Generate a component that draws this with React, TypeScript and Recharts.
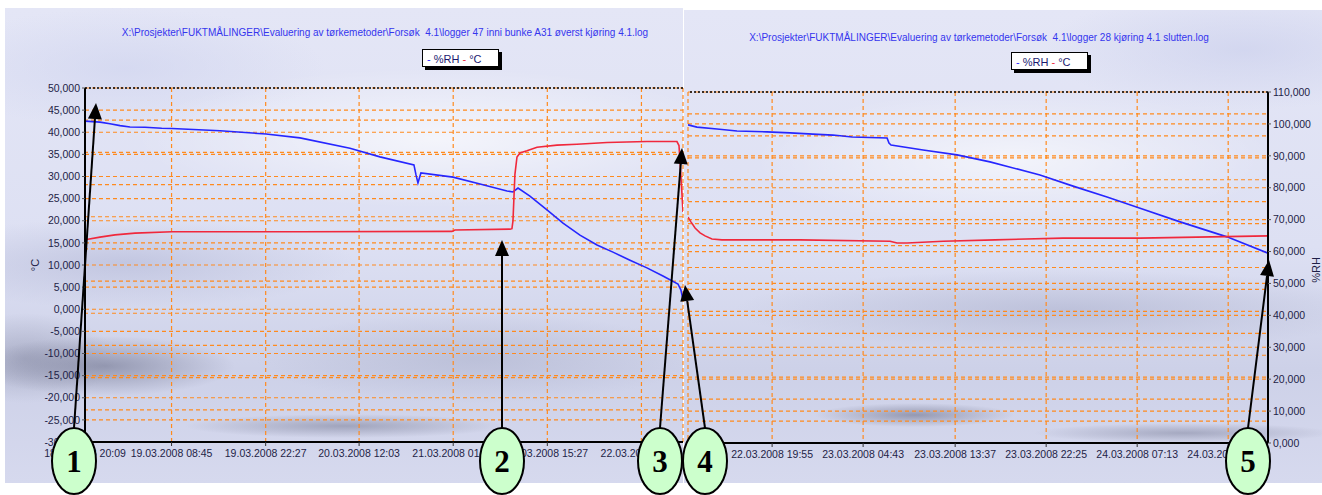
import React from 'react';
import { LineChart, Line, XAxis, YAxis, CartesianGrid, ReferenceLine } from 'recharts';

// ---------- titles / legend ----------
const leftTitle = 'X:\\Prosjekter\\FUKTMÅLINGER\\Evaluering av tørkemetoder\\Forsøk  4.1\\logger 47 inni bunke A31 øverst kjøring 4.1.log';
const rightTitle = 'X:\\Prosjekter\\FUKTMÅLINGER\\Evaluering av tørkemetoder\\Forsøk  4.1\\logger 28 kjøring 4.1 slutten.log';
const seriesNames = ['%RH', '°C'];
const seriesColors = ['#2626ff', '#f0283c'];

// ---------- axes ----------
const celsiusTicks = [-30, -25, -20, -15, -10, -5, 0, 5, 10, 15, 20, 25, 30, 35, 40, 45, 50];
const rhTicks = [0, 10, 20, 30, 40, 50, 60, 70, 80, 90, 100, 110];

// left chart: minutes since 18.03.2008 20:09
const leftTimeEnd = 5223;
const leftTicks = [0, 756, 1578, 2394, 3216, 4038, 4860];
const leftTickLabels = ['18.03.2008 20:09', '19.03.2008 08:45', '19.03.2008 22:27', '20.03.2008 12:03', '21.03.2008 01:45', '21.03.2008 15:27', '22.03.2008 05:09'];

// right chart: minutes since 22.03.2008 11:47
const rightTimeEnd = 3365;
const rightTicks = [488, 1016, 1550, 2078, 2606, 3134];
const rightTickLabels = ['22.03.2008 19:55', '23.03.2008 04:43', '23.03.2008 13:37', '23.03.2008 22:25', '24.03.2008 07:13', '24.03.2008 16:01'];

// ---------- series: logger 47 ----------
const leftRhTime = [0, 131, 218, 306, 393, 524, 670, 760, 1179, 1581, 1878, 2314, 2576, 2873, 2891, 2908, 2934, 3214, 3450, 3686, 3738, 3782, 3886, 4035, 4175, 4323, 4472, 4611, 4760, 4908, 5048, 5179, 5205, 5223];
const leftRh = [99.7, 99.4, 98.9, 98.3, 97.9, 97.8, 97.5, 97.4, 96.7, 95.7, 94.5, 91.3, 88.6, 86.1, 83.0, 80.5, 83.6, 82.3, 80.2, 78.0, 77.7, 78.9, 76.4, 72.1, 68.0, 64.3, 61.2, 59.0, 56.5, 54.1, 51.6, 49.1, 47.2, 44.1];
const leftTempTime = [0, 131, 262, 437, 760, 1878, 3205, 3231, 3712, 3729, 3738, 3755, 3773, 3799, 3860, 3948, 4122, 4297, 4559, 4908, 5170, 5188, 5205, 5223];
const leftTemp = [15.7, 16.3, 16.8, 17.2, 17.5, 17.5, 17.6, 17.9, 18.1, 18.2, 20.0, 30.5, 34.4, 35.3, 35.8, 36.6, 37.1, 37.3, 37.7, 37.9, 37.9, 37.0, 30.0, 22.0];

// ---------- series: logger 28 ----------
const rightRhTime = [0, 52, 168, 284, 458, 592, 725, 841, 952, 1155, 1166, 1178, 1364, 1561, 1752, 2042, 2234, 2431, 2623, 2855, 3127, 3365];
const rightRh = [99.7, 99.0, 98.4, 97.8, 97.5, 97.2, 96.8, 96.5, 95.9, 95.6, 94.0, 93.4, 91.8, 90.3, 88.1, 84.0, 80.5, 77.1, 73.6, 69.3, 64.6, 59.5];
const rightTempTime = [0, 17, 41, 70, 99, 139, 197, 650, 1172, 1213, 1271, 1480, 1781, 2176, 2623, 3365];
const rightTemp = [21.5, 20.4, 19.0, 17.9, 17.2, 16.5, 16.3, 16.3, 16.0, 15.6, 15.6, 16.0, 16.3, 16.7, 16.7, 17.2];

const zip = (ts: number[], vs: number[], key: string) => ts.map((t, i) => ({ t, [key]: vs[i] }));

const leftRhData = zip(leftRhTime, leftRh, 'rh');
const leftTempData = zip(leftTempTime, leftTemp, 'c');
const rightRhData = zip(rightRhTime, rightRh, 'rh');
const rightTempData = zip(rightTempTime, rightTemp, 'c');

const fmtNum = (v: number) => v.toFixed(3).replace('.', ',');
const FONT = '"Liberation Sans", Arial, sans-serif';
const tickStyle = { fontSize: 10.5, fill: '#1e1e46', fontFamily: FONT };
const GRID = '#ff8a1e';

// ---------- annotations ----------
const markers = [
  { n: '1', cx: 74, tip: [96, 103] },
  { n: '2', cx: 502, tip: [502, 240] },
  { n: '3', cx: 660, tip: [682, 148] },
  { n: '4', cx: 705, tip: [685, 285] },
  { n: '5', cx: 1248, tip: [1269, 260] },
];

function Annotations() {
  const cy = 461;
  const ry = 33;
  return (
    <svg width={1322} height={495} style={{ position: 'absolute', left: 0, top: 0, pointerEvents: 'none' }}>
      {markers.map((m) => {
        const fx = m.cx;
        const fy = cy - ry;
        const [tx, ty] = m.tip;
        const dx = tx - fx;
        const dy = ty - fy;
        const len = Math.sqrt(dx * dx + dy * dy);
        const ux = dx / len;
        const uy = dy / len;
        const bx = tx - ux * 16;
        const by = ty - uy * 16;
        const px = -uy * 7;
        const py = ux * 7;
        return (
          <g key={m.n}>
            <line x1={fx} y1={fy} x2={bx} y2={by} stroke="#000" strokeWidth={2} />
            <polygon points={`${tx},${ty} ${bx + px},${by + py} ${bx - px},${by - py}`} fill="#000" />
          </g>
        );
      })}
      {markers.map((m) => (
        <g key={'c' + m.n}>
          <ellipse cx={m.cx} cy={cy} rx={22} ry={ry} fill="#ccffcc" stroke="#000" strokeWidth={2} />
          <text x={m.cx} y={cy + 11} textAnchor="middle" fontFamily='"Liberation Serif", "Times New Roman", serif' fontWeight="bold" fontSize={31} fill="#000">
            {m.n}
          </text>
        </g>
      ))}
    </svg>
  );
}

function LegendBox({ left, top }: { left: number; top: number }) {
  return (
    <div
      style={{
        position: 'absolute', left, top, width: 77, height: 18, background: '#fff', border: '1px solid #000',
        boxShadow: '3px 3px 0 #000', fontFamily: FONT, fontSize: 11, lineHeight: '18px', paddingLeft: 4, boxSizing: 'border-box',
        whiteSpace: 'nowrap',
      }}
    >
      <span style={{ color: seriesColors[0] }}>- </span>
      <span style={{ color: '#1a1a70' }}>{seriesNames[0]} </span>
      <span style={{ color: seriesColors[1] }}>- </span>
      <span style={{ color: '#1a1a70' }}>{seriesNames[1]}</span>
    </div>
  );
}

const leftBg = [
  'radial-gradient(ellipse 130px 30px at 100px 358px, rgba(110,114,140,0.6), rgba(110,114,140,0) 100%)',
  'radial-gradient(ellipse 90px 45px at 20px 350px, rgba(130,134,160,0.45), rgba(130,134,160,0) 100%)',
  'radial-gradient(ellipse 160px 12px at 340px 418px, rgba(100,104,130,0.45), rgba(100,104,130,0) 100%)',
  'radial-gradient(ellipse 220px 45px at 470px 350px, rgba(160,165,192,0.4), rgba(160,165,192,0) 100%)',
  'radial-gradient(ellipse 230px 45px at 120px 255px, rgba(170,175,208,0.5), rgba(170,175,208,0) 100%)',
  'radial-gradient(ellipse 300px 70px at 430px 130px, rgba(255,255,255,0.65), rgba(255,255,255,0) 100%)',
  'radial-gradient(ellipse 200px 60px at 120px 60px, rgba(205,210,238,0.6), rgba(205,210,238,0) 100%)',
  'linear-gradient(180deg, #e4e6f6 0%, #dde0f3 50%, #cdd1e8 76%, #d6d9ee 100%)',
].join(',');

const rightBg = [
  'radial-gradient(ellipse 100px 12px at 231px 405px, rgba(100,104,130,0.55), rgba(100,104,130,0) 100%)',
  'radial-gradient(ellipse 150px 10px at 500px 423px, rgba(110,114,140,0.45), rgba(110,114,140,0) 100%)',
  'radial-gradient(ellipse 330px 40px at 380px 300px, rgba(160,165,195,0.45), rgba(160,165,195,0) 100%)',
  'radial-gradient(ellipse 260px 70px at 330px 150px, rgba(255,255,255,0.6), rgba(255,255,255,0) 100%)',
  'radial-gradient(ellipse 200px 60px at 560px 40px, rgba(200,205,235,0.6), rgba(200,205,235,0) 100%)',
  'linear-gradient(180deg, #e4e6f6 0%, #dde0f3 50%, #cdd1e8 76%, #d6d9ee 100%)',
].join(',');

function LeftChart() {
  return (
    <LineChart width={680} height={475} margin={{ top: 80, right: 2, left: 0, bottom: 11 }}>
      <CartesianGrid yAxisId="c" xAxisId="t" vertical={true} horizontal={true} stroke={GRID} strokeDasharray="4 3" strokeWidth={1.2} />
      <XAxis
        xAxisId="t" dataKey="t" type="number" domain={[0, leftTimeEnd]} ticks={leftTicks} allowDataOverflow
        tickFormatter={(v: number) => leftTickLabels[leftTicks.indexOf(v)] ?? ''}
        tick={tickStyle} tickSize={4} tickMargin={4} height={30} interval={0}
        axisLine={{ stroke: '#000', strokeWidth: 2 }} tickLine={{ stroke: '#333' }}
      />
      <YAxis
        yAxisId="c" type="number" domain={[-30, 50]} ticks={celsiusTicks} tickFormatter={fmtNum} width={80}
        tick={tickStyle} tickSize={3} tickMargin={2} interval={0} allowDataOverflow
        axisLine={{ stroke: '#000', strokeWidth: 2 }} tickLine={{ stroke: '#555' }}
      />
      <YAxis
        yAxisId="rh" orientation="right" type="number" domain={[0, 110]} ticks={rhTicks} width={0}
        tick={false} tickLine={false} axisLine={{ stroke: '#000', strokeWidth: 2 }}
      />
      {rhTicks.slice(1, -1).map((v) => (
        <ReferenceLine key={'g' + v} yAxisId="rh" xAxisId="t" y={v} stroke={GRID} strokeDasharray="4 3" strokeWidth={1.2} />
      ))}
      <ReferenceLine yAxisId="c" xAxisId="t" y={50} stroke="#000" strokeDasharray="2 2" strokeWidth={1.5} />
      <Line xAxisId="t" yAxisId="rh" data={leftRhData} dataKey="rh" stroke={seriesColors[0]} strokeWidth={1.6} dot={false} isAnimationActive={false} type="linear" />
      <Line xAxisId="t" yAxisId="c" data={leftTempData} dataKey="c" stroke={seriesColors[1]} strokeWidth={1.6} dot={false} isAnimationActive={false} type="linear" />
    </LineChart>
  );
}

function RightChart() {
  return (
    <LineChart width={638} height={473} margin={{ top: 82, right: 0, left: 4, bottom: 10 }}>
      <CartesianGrid yAxisId="rh" xAxisId="t" vertical={true} horizontal={true} stroke={GRID} strokeDasharray="4 3" strokeWidth={1.2} />
      <XAxis
        xAxisId="t" dataKey="t" type="number" domain={[0, rightTimeEnd]} ticks={rightTicks} allowDataOverflow
        tickFormatter={(v: number) => rightTickLabels[rightTicks.indexOf(v)] ?? ''}
        tick={tickStyle} tickSize={4} tickMargin={4} height={30} interval={0}
        axisLine={{ stroke: '#000', strokeWidth: 2 }} tickLine={{ stroke: '#333' }}
      />
      <YAxis
        yAxisId="c" type="number" domain={[-30, 50]} ticks={celsiusTicks} width={0}
        tick={false} tickLine={false} axisLine={{ stroke: '#000', strokeWidth: 2 }}
      />
      <YAxis
        yAxisId="rh" orientation="right" type="number" domain={[0, 110]} ticks={rhTicks} tickFormatter={fmtNum} width={54}
        tick={tickStyle} tickSize={3} tickMargin={2} interval={0}
        axisLine={{ stroke: '#000', strokeWidth: 2 }} tickLine={{ stroke: '#555' }}
      />
      {celsiusTicks.slice(1, -1).map((v) => (
        <ReferenceLine key={'g' + v} yAxisId="c" xAxisId="t" y={v} stroke={GRID} strokeDasharray="4 3" strokeWidth={1.2} />
      ))}
      <ReferenceLine yAxisId="rh" xAxisId="t" y={110} stroke="#000" strokeDasharray="2 2" strokeWidth={1.5} />
      <Line xAxisId="t" yAxisId="rh" data={rightRhData} dataKey="rh" stroke={seriesColors[0]} strokeWidth={1.6} dot={false} isAnimationActive={false} type="linear" />
      <Line xAxisId="t" yAxisId="c" data={rightTempData} dataKey="c" stroke={seriesColors[1]} strokeWidth={1.6} dot={false} isAnimationActive={false} type="linear" />
    </LineChart>
  );
}

const titleStyle: React.CSSProperties = {
  position: 'absolute', fontFamily: FONT, fontSize: 10, color: '#3535ee', whiteSpace: 'pre', transform: 'translateX(-50%)',
};

export default function App() {
  return (
    <div style={{ position: 'absolute', left: 0, top: 0, width: 1322, height: 495, background: '#fff', overflow: 'hidden' }}>
      <div style={{ position: 'absolute', left: 5, top: 8, width: 678, height: 475, background: leftBg }} />
      <div style={{ position: 'absolute', left: 684, top: 10, width: 638, height: 473, background: rightBg }} />

      <div style={{ ...titleStyle, left: 385, top: 27 }}>{leftTitle}</div>
      <div style={{ ...titleStyle, left: 979, top: 32 }}>{rightTitle}</div>

      <LegendBox left={422} top={49} />
      <LegendBox left={1011} top={52} />

      <div style={{ position: 'absolute', left: 5, top: 8 }}>
        <LeftChart />
      </div>
      <div style={{ position: 'absolute', left: 684, top: 10 }}>
        <RightChart />
      </div>

      <div style={{ position: 'absolute', left: 35, top: 265, transform: 'translate(-50%,-50%) rotate(-90deg)', fontFamily: FONT, fontSize: 11, color: '#1e1e46' }}>°C</div>
      <div style={{ position: 'absolute', left: 1316, top: 270, transform: 'translate(-50%,-50%) rotate(-90deg)', fontFamily: FONT, fontSize: 11, color: '#1e1e46' }}>%RH</div>

      <Annotations />
    </div>
  );
}
